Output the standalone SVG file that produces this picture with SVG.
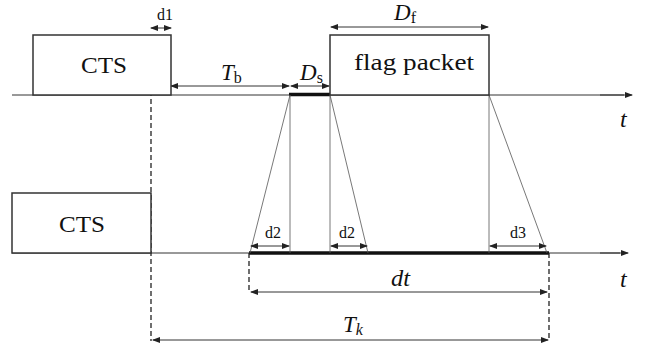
<svg xmlns="http://www.w3.org/2000/svg" width="646" height="349" viewBox="0 0 646 349">
<defs>
<marker id="ah" markerWidth="8" markerHeight="6" refX="7" refY="3" orient="auto-start-reverse" markerUnits="userSpaceOnUse">
<path d="M0,0 L8,3 L0,6 Z" fill="#222"/>
</marker>
</defs>
<style>
.ln{stroke:#333;stroke-width:1;fill:none}
.thin{stroke:#555;stroke-width:0.8;fill:none}
.box{stroke:#333;stroke-width:1.5;fill:#fff}
.dash{stroke:#222;stroke-width:1.3;stroke-dasharray:5,3;fill:none}
.thick{stroke:#111;stroke-width:3.5}
.arr{stroke:#333;stroke-width:1;marker-start:url(#ah);marker-end:url(#ah)}
.arr1{stroke:#333;stroke-width:1;marker-end:url(#ah)}
text{font-family:'Liberation Serif','DejaVu Serif',serif;fill:#111}
</style>
<g id="connectors">
<line class="ln" x1="12" y1="95" x2="624" y2="95"/>
<line class="arr1" x1="600" y1="95" x2="632" y2="95"/>
<line class="ln" x1="12" y1="253" x2="620" y2="253"/>
<line class="arr1" x1="600" y1="253" x2="628" y2="253"/>
<line class="thick" x1="289" y1="94.5" x2="330" y2="94.5"/>
<line class="thick" x1="249" y1="253" x2="549" y2="253"/>
<line class="thin" x1="290" y1="95" x2="250" y2="253"/>
<line class="thin" x1="290" y1="95" x2="290" y2="253"/>
<line class="thin" x1="330" y1="95" x2="330" y2="253"/>
<line class="thin" x1="330" y1="95" x2="368" y2="253"/>
<line class="thin" x1="489" y1="95" x2="489" y2="253"/>
<line class="thin" x1="489" y1="95" x2="547" y2="253"/>
<line class="dash" x1="151" y1="35" x2="151" y2="341"/>
<line class="dash" x1="249" y1="253" x2="249" y2="293"/>
<line class="dash" x1="549" y1="253" x2="549" y2="341"/>
<line class="arr" x1="151" y1="28" x2="171" y2="28"/>
<line class="arr" x1="171" y1="86" x2="289" y2="86"/>
<line class="arr" x1="291" y1="86" x2="329" y2="86"/>
<line class="arr" x1="331" y1="27" x2="488" y2="27"/>
<line class="arr" x1="251" y1="246" x2="289" y2="246"/>
<line class="arr" x1="331" y1="246" x2="367" y2="246"/>
<line class="arr" x1="490" y1="246" x2="546" y2="246"/>
<line class="arr" x1="251" y1="292" x2="547" y2="292"/>
<line class="arr" x1="153" y1="340" x2="548" y2="340"/>
</g>
<g id="cts-top">
<rect class="box" x="33" y="35" width="138" height="60"/>
<text font-size="24" x="81" y="73" textLength="46" lengthAdjust="spacingAndGlyphs">CTS</text>
</g>
<g id="flag-packet">
<rect class="box" x="330" y="35" width="159" height="60"/>
<text font-size="24" x="354" y="70" textLength="120" lengthAdjust="spacingAndGlyphs">flag packet</text>
</g>
<g id="cts-bottom">
<rect class="box" x="12" y="193" width="139" height="60"/>
<text font-size="24" x="59" y="232" textLength="46" lengthAdjust="spacingAndGlyphs">CTS</text>
</g>
<g id="labels">
<text font-size="16" x="157" y="20">d1</text>
<text x="221" y="80" font-size="23" font-style="italic">T<tspan font-size="16" font-style="normal" dy="3">b</tspan></text>
<text x="300" y="80" font-size="23" font-style="italic">D<tspan font-size="16" font-style="normal" dy="3">s</tspan></text>
<text x="394" y="20" font-size="23" font-style="italic">D<tspan font-size="16" font-style="normal" dy="3">f</tspan></text>
<text font-size="16" x="265" y="238">d2</text>
<text font-size="16" x="339" y="238">d2</text>
<text font-size="16" x="510" y="238">d3</text>
<text x="391" y="286" font-size="24" font-style="italic" textLength="19" lengthAdjust="spacingAndGlyphs">dt</text>
<text x="343" y="332" font-size="23" font-style="italic">T<tspan font-size="16" dy="3">k</tspan></text>
<text x="620" y="127" font-size="24" font-style="italic">t</text>
<text x="620" y="287" font-size="24" font-style="italic">t</text>
</g>
</svg>
